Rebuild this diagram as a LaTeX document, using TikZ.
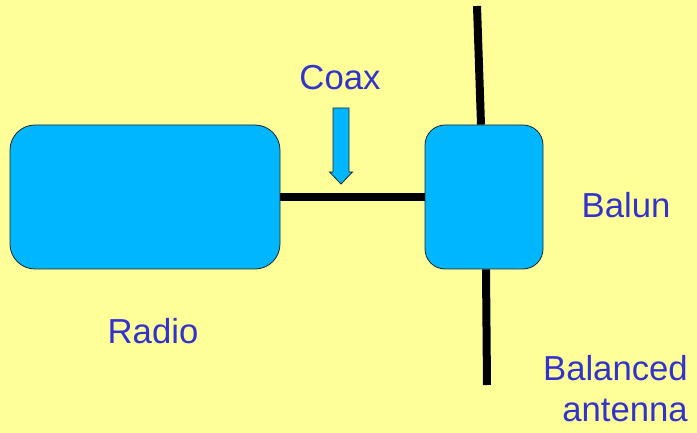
\documentclass[tikz,border=0pt]{standalone}
\usepackage{fontspec}
\setmainfont{Liberation Sans}
\usepackage{tikz}
\definecolor{paper}{RGB}{255,255,153}
\definecolor{boxblue}{RGB}{0,182,255}
\definecolor{labelblue}{RGB}{51,51,204}

\begin{document}
\begin{tikzpicture}[x=1pt,y=-1pt]
\tikzstyle{block}=[rectangle, draw=black!85, line width=0.8pt, fill=boxblue]
\tikzstyle{wire}=[line width=8pt, black]
\tikzstyle{lbl}=[text=labelblue, font=\fontsize{34.7}{41}\selectfont, inner sep=0pt]
  % background
  \fill[paper] (0,0) rectangle (697,433);
  \useasboundingbox (0,0) rectangle (697,433);
  % radio
  \node[block, rounded corners=25pt, minimum width=270pt, minimum height=144pt] (radio) at (145,197) {};
  % balun
  \node[block, rounded corners=20pt, minimum width=118pt, minimum height=144pt] (balun) at (484,197) {};
  % antenna ends
  \coordinate (anttop) at (477,6);
  \coordinate (antbot) at (487,385);
  \draw[wire] (radio.east) -- (balun.west);
  \draw[wire] (anttop) -- ([xshift=-3pt]balun.north);
  \draw[wire] ([xshift=2pt]balun.south) -- (antbot);
  % coax pointer
  \coordinate (tip) at (341,184);
  \draw[black!85, line width=0.8pt, fill=boxblue]
    (tip) -- ++(-11.5,-12) -- ++(3.5,0) -- ++(0,-64) -- ++(16,0)
    -- ++(0,64) -- ++(3.5,0) -- cycle;
  % labels
  \node[lbl] (coax) at (340,78) {Coax};
  \node[lbl] (radiolbl) at (153,331) {Radio};
  \node[lbl] (balunlbl) at (626,205) {Balun};
  \node[lbl, align=right, anchor=east] (antlbl) at (688,389) {Balanced\\antenna};
\end{tikzpicture}
\end{document}
